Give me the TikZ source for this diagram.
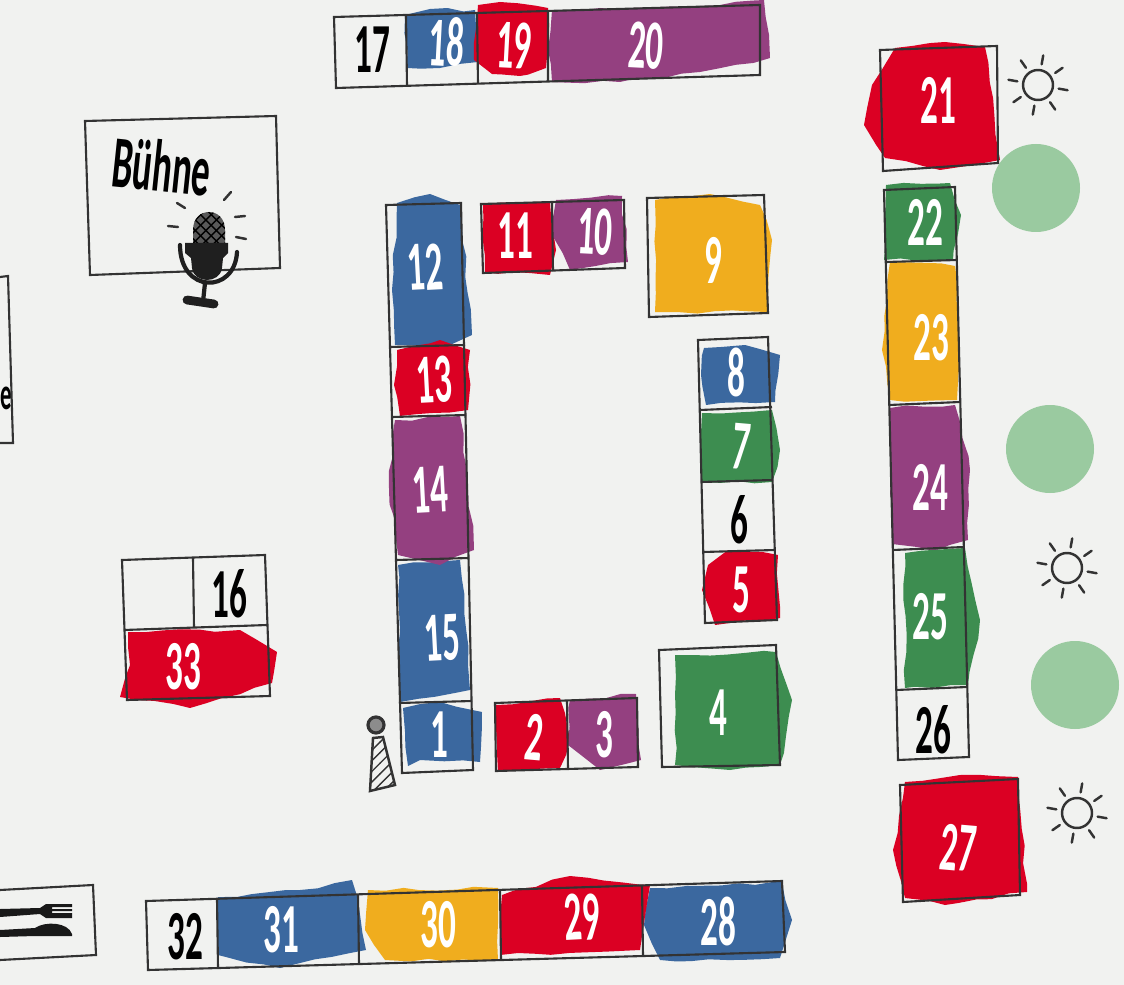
\documentclass[tikz,border=0pt]{standalone}
\usepackage{fontspec}
\usepackage{tikz}
\usetikzlibrary{patterns, decorations.pathmorphing}
\newfontfamily\handfont[FakeStretch=0.5]{Carlito}
\definecolor{paper}{HTML}{F1F2F0}
\definecolor{inkline}{HTML}{333333}
\definecolor{stallblue}{HTML}{3B689F}
\definecolor{stallred}{HTML}{DB0023}
\definecolor{stallpurple}{HTML}{944080}
\definecolor{stallgreen}{HTML}{3D8D50}
\definecolor{stallyellow}{HTML}{F0AD1E}
\definecolor{treegreen}{HTML}{9ACAA0}
\tikzset{
  stallbox/.style={draw=inkline, line width=0.6pt},
  blob/.style={decorate, decoration={random steps, segment length=5pt, amplitude=0.5pt}},
  numwhite/.style={text=white, font=\handfont\fontsize{20}{20}\selectfont\bfseries, inner sep=0pt},
  numblack/.style={text=black, font=\handfont\fontsize{20}{20}\selectfont\bfseries, inner sep=0pt},
  sunray/.style={draw=inkline, line width=0.7pt, line cap=round},
  tree/.style={fill=treegreen}
}
\begin{document}
\begin{tikzpicture}[x=0.01cm, y=-0.01cm]
  \useasboundingbox (0,0) rectangle (1124,985);
  \fill[paper] (0,0) rectangle (1124,985);

  % Trees
  \foreach \x/\y in {1036/188, 1050/449, 1075/685}
    \fill[tree] (\x,\y) circle (44);

  % Blue stalls
  \fill[stallblue, blob] (405,15) -- (430,9) -- (475,10) -- (478,62) -- (440,68) -- (407,68) -- cycle;
  \fill[stallblue, blob] (397,203) -- (430,194) -- (460,205) -- (472,335) -- (450,345) -- (395,345) -- (392,290) -- cycle;
  \fill[stallblue, blob] (398,565) -- (460,560) -- (470,690) -- (400,702) -- cycle;
  \fill[stallblue, blob] (403,708) -- (440,702) -- (482,712) -- (480,762) -- (420,760) -- (408,766) -- cycle;
  \fill[stallblue, blob] (704,348) -- (745,345) -- (780,355) -- (775,402) -- (706,405) -- (701,375) -- cycle;
  \fill[stallblue, blob] (218,897) -- (300,890) -- (352,880) -- (366,950) -- (280,968) -- (218,955) -- cycle;
  \fill[stallblue, blob] (650,888) -- (782,882) -- (792,920) -- (780,958) -- (660,960) -- (644,925) -- cycle;

  % Red stalls
  \fill[stallred, blob] (478,5) -- (500,2) -- (548,8) -- (546,68) -- (520,76) -- (492,74) -- (474,60) -- cycle;
  \fill[stallred, blob] (895,48) -- (945,42) -- (985,47) -- (1000,160) -- (940,170) -- (885,158) -- (864,125) -- (872,85) -- cycle;
  \fill[stallred, blob] (905,782) -- (960,775) -- (1018,777) -- (1027,892) -- (945,905) -- (905,898) -- (893,850) -- cycle;
  \fill[stallred, blob] (397,350) -- (440,340) -- (470,350) -- (468,410) -- (400,416) -- (394,385) -- cycle;
  \fill[stallred, blob] (483,205) -- (550,202) -- (556,250) -- (550,275) -- (485,272) -- cycle;
  \fill[stallred, blob] (708,565) -- (728,550) -- (778,555) -- (780,618) -- (715,625) -- (702,590) -- cycle;
  \fill[stallred, blob] (128,632) -- (240,630) -- (277,652) -- (272,683) -- (190,708) -- (120,697) -- (130,665) -- cycle;
  \fill[stallred, blob] (502,895) -- (570,876) -- (650,885) -- (640,950) -- (500,955) -- cycle;
  \fill[stallred, blob] (496,705) -- (560,698) -- (570,740) -- (560,768) -- (520,770) -- (498,772) -- cycle;

  % Purple stalls
  \fill[stallpurple, blob] (552,10) -- (600,8) -- (700,6) -- (764,0) -- (770,58) -- (700,72) -- (620,82) -- (552,82) -- (548,50) -- cycle;
  \fill[stallpurple, blob] (890,408) -- (955,405) -- (970,470) -- (968,540) -- (935,551) -- (892,544) -- cycle;
  \fill[stallpurple, blob] (395,420) -- (460,416) -- (468,490) -- (474,550) -- (440,565) -- (398,555) -- (389,490) -- cycle;
  \fill[stallpurple, blob] (556,200) -- (622,196) -- (628,262) -- (570,270) -- (552,235) -- cycle;
  \fill[stallpurple, blob] (570,700) -- (636,694) -- (641,760) -- (600,770) -- (568,745) -- cycle;

  % Green stalls
  \fill[stallgreen, blob] (886,185) -- (950,183) -- (961,215) -- (953,260) -- (884,260) -- cycle;
  \fill[stallgreen, blob] (905,553) -- (965,548) -- (980,620) -- (968,685) -- (905,688) -- cycle;
  \fill[stallgreen, blob] (702,413) -- (772,410) -- (780,450) -- (772,482) -- (702,482) -- cycle;
  \fill[stallgreen, blob] (675,655) -- (776,652) -- (792,700) -- (780,765) -- (730,770) -- (675,765) -- cycle;

  % Yellow stalls
  \fill[stallyellow, blob] (890,262) -- (955,266) -- (960,360) -- (957,400) -- (890,400) -- (882,350) -- cycle;
  \fill[stallyellow, blob] (655,200) -- (710,194) -- (760,205) -- (772,240) -- (767,312) -- (655,312) -- cycle;
  \fill[stallyellow, blob] (368,890) -- (498,888) -- (498,960) -- (385,960) -- (365,930) -- cycle;

  % Top row
  \draw[stallbox] (334,17) -- (760,5) -- (760,75) -- (336,88) -- cycle;
  \draw[stallbox] (406,15) -- (407,86) (477,13) -- (478,84) (548,11) -- (548,82);
  % Stalls at the right edge
  \draw[stallbox] (880,50) -- (997,46) -- (998,163) -- (883,171) -- cycle;
  \draw[stallbox] (900,785) -- (1018,779) -- (1020,895) -- (903,902) -- cycle;
  % Right column
  \draw[stallbox] (884,190) -- (955,187) -- (969,757) -- (898,760) -- cycle;
  \draw[stallbox] (886,262) -- (957,260) (889,405) -- (960,402) (893,550) -- (964,547) (896,690) -- (967,687);
  % Stage and cut-off box
  \draw[stallbox] (85,121) -- (276,116) -- (280,268) -- (90,275) -- cycle;
  \draw[stallbox] (0,277) -- (8,276) -- (13,443) -- (0,443);
  % Left column
  \draw[stallbox] (386,205) -- (461,203) -- (473,770) -- (402,773) -- cycle;
  \draw[stallbox] (390,347) -- (465,345) (392,417) -- (466,415) (396,560) -- (469,558) (399,703) -- (472,701);
  % Small rows
  \draw[stallbox] (481,204) -- (624,200) -- (625,268) -- (483,273) -- cycle;
  \draw[stallbox] (552,202) -- (553,271);
  \draw[stallbox] (647,198) -- (764,195) -- (768,313) -- (649,317) -- cycle;
  \draw[stallbox] (698,340) -- (768,337) -- (777,620) -- (705,623) -- cycle;
  \draw[stallbox] (700,410) -- (772,407) (701,482) -- (773,480) (703,552) -- (775,550);
  \draw[stallbox] (659,650) -- (776,645) -- (780,765) -- (662,767) -- cycle;
  \draw[stallbox] (495,703) -- (637,698) -- (638,767) -- (496,771) -- cycle;
  \draw[stallbox] (567,701) -- (568,769);
  % Box with 16 and 33
  \draw[stallbox] (122,560) -- (265,555) -- (270,696) -- (127,700) -- cycle;
  \draw[stallbox] (124,630) -- (267,625) (193,558) -- (194,628);
  % Bottom row
  \draw[stallbox] (146,901) -- (782,881) -- (785,952) -- (148,970) -- cycle;
  \draw[stallbox] (217,899) -- (218,968) (358,894) -- (359,964) (500,890) -- (501,960) (642,885) -- (643,956);
  \draw[stallbox] (0,890) -- (93,885) -- (96,955) -- (0,960);

  % Numbers on colour
  \foreach \i/\x/\y/\a in {1/439/735/0, 2/534/737/-5, 3/604/735/0, 4/718/713/0, 5/741/590/0,
      7/741/447/-5, 8/736/372/0, 9/713/260/0, 10/595/232/-3, 11/515/236/0, 12/425/267/3,
      13/434/380/3, 14/430/490/3, 15/442/638/3, 18/447/42/-3, 19/514/45/-3, 20/646/46/-3,
      21/938/100/0, 22/925/222/0, 23/931/338/0, 24/930/487/0, 25/930/617/0, 27/958/848/-5,
      28/718/921/0, 29/582/917/3, 30/438/925/0, 31/281/930/0, 33/183/667/0}
    \node[numwhite, rotate=\a] (n\i) at (\x,\y) {\i};
  % Numbers on paper
  \foreach \i/\x/\y in {6/739/520, 16/229/594, 17/372/50, 26/933/730, 32/185/937}
    \node[numblack] (n\i) at (\x,\y) {\i};

  % Stage label
  \node[text=black, font=\handfont\fontsize{21}{21}\selectfont\bfseries, inner sep=0pt, rotate=-6] (buehne) at (162,166) {Bühne};
  \node[text=black, font=\handfont\fontsize{13}{13}\selectfont\bfseries, inner sep=0pt, anchor=west] (cutlabel) at (0,398) {e};

  % Microphone
  \draw[sunray] (177,203) -- (185,208) (168,226) -- (178,227) (224,200) -- (231,192) (235,217) -- (245,216) (236,237) -- (246,239);
  \fill[black!65] (193,245) -- (193,230) .. controls (193,206) and (225,206) .. (225,230) -- (225,245) -- cycle;
  \fill[pattern=crosshatch, pattern color=black] (193,245) -- (193,230) .. controls (193,206) and (225,206) .. (225,230) -- (225,245) -- cycle;
  \fill[black!88] (185,243) -- (228,243) -- (228,253) -- (223,258) -- (222,268) .. controls (220,284) and (194,284) .. (192,268) -- (191,258) -- (185,253) -- cycle;
  \draw[black!88, line width=1.2pt, line cap=round] (180,245) .. controls (180,294) and (235,294) .. (237,252);
  \draw[black!88, line width=1.2pt] (205,283) -- (203,302);
  \draw[black!88, line width=2.5pt, line cap=round] (187,300) -- (214,304);

  % Info figure
  \draw[inkline, line width=0.9pt, fill=black!45] (376,725) circle (8);
  \draw[inkline, line width=0.7pt, pattern=north east lines, pattern color=inkline] (373,738) -- (383,737) -- (395,785) -- (370,791) -- cycle;

  % Suns
  \foreach \x/\y in {1038/85, 1067/568, 1077/813} {
    \draw[sunray] (\x,\y) circle (15);
    \foreach \r in {10,55,...,325}
      \draw[sunray] ([shift={(\r:21)}]\x,\y) -- ([shift={(\r:30)}]\x,\y);
  }

  % Fork and knife
  \fill[black!90] (0,909) -- (40,908) -- (46,904) -- (72,904) -- (72,907) -- (52,907) -- (52,909) -- (72,909) -- (72,911) -- (52,911) -- (52,913) -- (72,913) -- (72,918) -- (46,918) -- (40,914) -- (0,917) -- cycle;
  \fill[black!90] (0,930) -- (35,928) .. controls (45,921) and (68,922) .. (72,934) -- (72,936) -- (35,936) -- (0,937) -- cycle;
\end{tikzpicture}
\end{document}
